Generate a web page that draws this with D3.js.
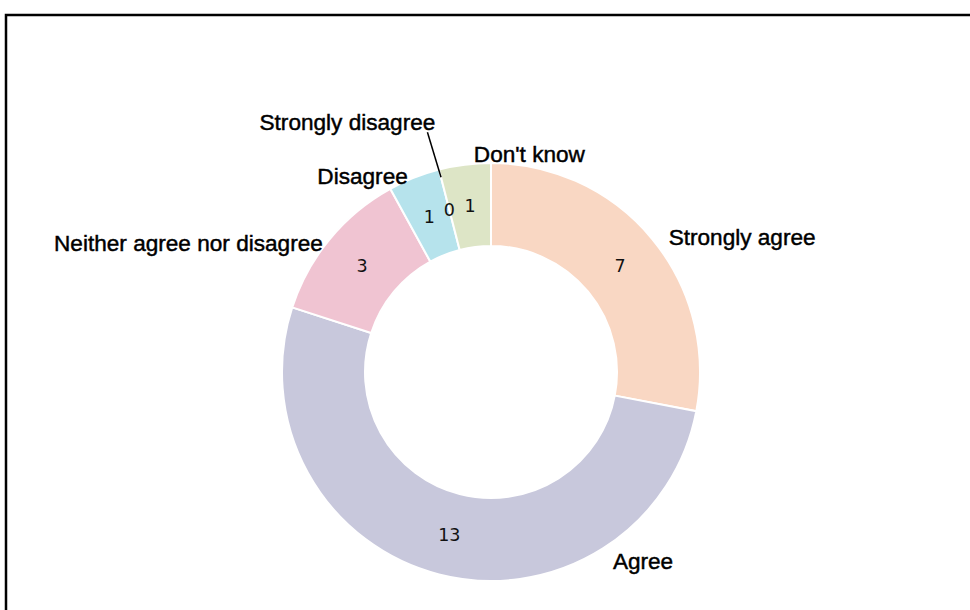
<!DOCTYPE html>
<html>
<head>
<meta charset="utf-8">
<script src="https://cdn.jsdelivr.net/npm/d3@7"></script>
<style>
  html, body { margin: 0; padding: 0; background: #fff; }
  svg { display: block; }
</style>
</head>
<body>
<svg id="chart" width="970" height="610"></svg>
<script>
const categories = ["Strongly agree", "Agree", "Neither agree nor disagree", "Disagree", "Strongly disagree", "Don't know"];
const values = [7, 13, 3, 1, 0, 1];
const colors = ["#F9D7C3", "#C8C8DC", "#F0C4D2", "#B6E3EC", "#E0E6CA", "#DDE5C6"];

const W = 970, H = 610;
const cx = 491, cy = 372;
const outerR = 209, innerR = 126;

const svg = d3.select("#chart");
svg.append("rect").attr("width", W).attr("height", H).attr("fill", "#fff");

// frame
svg.append("rect")
  .attr("x", 6).attr("y", 15)
  .attr("width", 1000).attr("height", 1000)
  .attr("fill", "none").attr("stroke", "#000").attr("stroke-width", 2.5);

const data = categories.map((c, i) => ({ name: c, value: values[i], color: colors[i] }));

const pie = d3.pie().value(d => d.value).sort(null);
const arcs = pie(data);
const arc = d3.arc().innerRadius(innerR).outerRadius(outerR);
const midArc = d3.arc().innerRadius((innerR + outerR) / 2).outerRadius((innerR + outerR) / 2);

const g = svg.append("g").attr("transform", `translate(${cx},${cy})`);

g.selectAll("path.slice")
  .data(arcs.filter(d => d.value > 0))
  .join("path")
  .attr("class", "slice")
  .attr("d", arc)
  .attr("fill", d => d.data.color)
  .attr("stroke", "#fff")
  .attr("stroke-width", 2);

// value labels
g.selectAll("text.val")
  .data(arcs)
  .join("text")
  .attr("class", "val")
  .attr("transform", d => `translate(${midArc.centroid(d)})`)
  .attr("text-anchor", "middle")
  .attr("dy", "0.36em")
  .attr("font-family", "DejaVu Sans, Verdana, sans-serif")
  .attr("font-size", 17.5)
  .attr("fill", "#111")
  .text(d => d.value);

// category label placement (polar: angle in degrees clockwise from top, radius)
const placement = {
  "Strongly agree": { a: 52.8, r: 223, anchor: "start" },
  "Agree": { a: 147.2, r: 225, anchor: "start" },
  "Neither agree nor disagree": { a: 307.5, r: 212, anchor: "end" },
  "Disagree": { a: 337, r: 213, anchor: "end" },
  "Strongly disagree": { a: 330.1, r: 288, anchor: "middle" },
  "Don't know": { a: 355.5, r: 219, anchor: "start" }
};
const polar = (a, r) => [r * Math.sin(a * Math.PI / 180), -r * Math.cos(a * Math.PI / 180)];

// leader line for zero slice
const zero = arcs.find(d => d.data.name === "Strongly disagree");
const p0 = polar(zero.startAngle * 180 / Math.PI, outerR - 8);
const pl = polar(placement["Strongly disagree"].a, placement["Strongly disagree"].r);
g.append("line")
  .attr("x1", p0[0]).attr("y1", p0[1])
  .attr("x2", pl[0] + 80).attr("y2", pl[1] + 10)
  .attr("stroke", "#000").attr("stroke-width", 1.5);

g.selectAll("text.cat")
  .data(arcs)
  .join("text")
  .attr("class", "cat")
  .attr("transform", d => {
    const p = placement[d.data.name];
    return `translate(${polar(p.a, p.r)})`;
  })
  .attr("text-anchor", d => placement[d.data.name].anchor)
  .attr("dy", "0.35em")
  .attr("font-family", "Liberation Sans, Arial, sans-serif")
  .attr("font-size", 22.6)
  .attr("fill", "#000")
  .attr("stroke", "#000")
  .attr("stroke-width", 0.45)
  .text(d => d.data.name);
</script>
</body>
</html>
